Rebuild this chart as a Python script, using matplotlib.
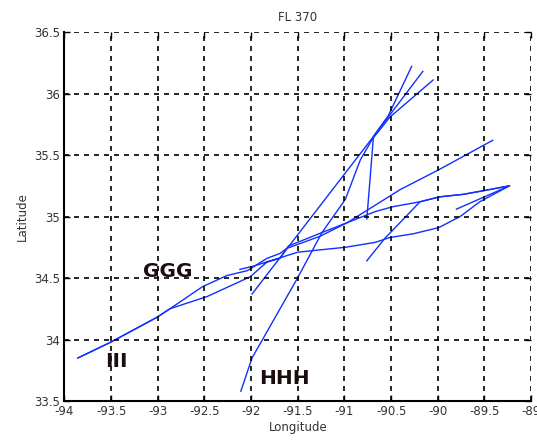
# FL 370 flight tracks (longitude vs latitude)

import matplotlib
matplotlib.use("Agg")
import matplotlib.pyplot as plt
from matplotlib.ticker import FormatStrFormatter

plt.rcParams["font.family"] = ["DejaVu Sans"]
plt.rcParams["axes.unicode_minus"] = False

# track 1: III -> far north-east
lon_1 = [-93.855, -93.50, -93.01, -92.87, -92.52, -92.26, -92.04, -91.83, -91.69,
		-91.62, -91.26, -90.97, -90.40, -89.99, -89.41]
lat_1 = [33.85, 33.98, 34.18, 34.25, 34.43, 34.52, 34.56, 34.66, 34.70,
		34.74, 34.84, 34.95, 35.22, 35.38, 35.62]

# track 2: III -> east apex and back west
lon_2 = [-93.855, -93.50, -93.01, -92.87, -92.47, -92.01, -91.83, -91.69, -91.60,
		-91.24, -90.67, -90.48, -90.19, -89.98, -89.73, -89.51, -89.23,
		-89.55, -89.76, -89.99, -90.26, -90.51, -90.67, -90.99, -91.50, -91.96, -92.12]
lat_2 = [33.85, 33.98, 34.18, 34.25, 34.35, 34.51, 34.63, 34.66, 34.76,
		34.87, 35.04, 35.08, 35.12, 35.16, 35.18, 35.21, 35.25,
		35.12, 35.00, 34.91, 34.86, 34.83, 34.79, 34.75, 34.71, 34.60, 34.57]

# track 3: short one near -90.75
lon_3 = [-90.76, -90.57, -90.19, -89.98, -89.73, -89.51, -89.23, -89.80]
lat_3 = [34.64, 34.82, 35.12, 35.16, 35.18, 35.21, 35.25, 35.06]

# track 4: north turn at -90.75
lon_4 = [-90.76, -90.69, -90.51, -90.05]
lat_4 = [34.98, 35.64, 35.81, 36.11]

# track 5: from -92 going north-east
lon_5 = [-91.99, -90.71, -90.53, -90.28]
lat_5 = [34.37, 35.63, 35.82, 36.22]

# track 6: HHH going north-east
lon_6 = [-92.11, -91.99, -91.87, -91.51, -91.24, -90.99, -90.83, -90.67, -90.51, -90.16]
lat_6 = [33.58, 33.85, 34.01, 34.49, 34.87, 35.14, 35.46, 35.67, 35.83, 36.18]

tracks = [(lon_1, lat_1), (lon_2, lat_2), (lon_3, lat_3),
		(lon_4, lat_4), (lon_5, lat_5), (lon_6, lat_6)]

labels = ["GGG", "III", "HHH"]
label_lon = [-92.89, -93.44, -91.64]
label_lat = [34.55, 33.82, 33.68]

x_ticks = [-94, -93.5, -93, -92.5, -92, -91.5, -91, -90.5, -90, -89.5, -89]
y_ticks = [33.5, 34, 34.5, 35, 35.5, 36, 36.5]

fig = plt.figure(figsize = (5.37, 4.40), dpi = 100)
ax = fig.add_axes([0.120, 0.0886, 0.869, 0.8386])

for lon, lat in tracks:
	ax.plot(lon, lat, color = "#1030ff", linewidth = 1.0)

for txt, x, y in zip(labels, label_lon, label_lat):
	ax.text(x, y, txt, fontsize = 14.5, fontweight = "bold", color = "#1a0d0d",
			ha = "center", va = "center")

ax.set_xlim(-94, -89)
ax.set_ylim(33.5, 36.5)
ax.set_xticks(x_ticks)
ax.set_yticks(y_ticks)
ax.xaxis.set_major_formatter(FormatStrFormatter("%g"))
ax.yaxis.set_major_formatter(FormatStrFormatter("%g"))
ax.tick_params(direction = "in", length = 4, width = 1, labelsize = 8.5,
		labelcolor = "#333333", top = True, right = True, pad = 3)
ax.grid(True, color = "black", linestyle = (0, (3, 3)), linewidth = 1.2)
ax.set_axisbelow(False)
for side in ["top", "right"]:
	ax.spines[side].set_visible(False)
for side in ["left", "bottom"]:
	ax.spines[side].set_linewidth(1.5)

ax.set_title("FL 370", fontsize = 8.5, color = "#333333", pad = 8)
ax.set_xlabel("Longitude", fontsize = 8.5, color = "#333333", labelpad = 2)
ax.set_ylabel("Latitude", fontsize = 8.5, color = "#333333", labelpad = 4)

plt.savefig("out.png", dpi = 100)
plt.close()
